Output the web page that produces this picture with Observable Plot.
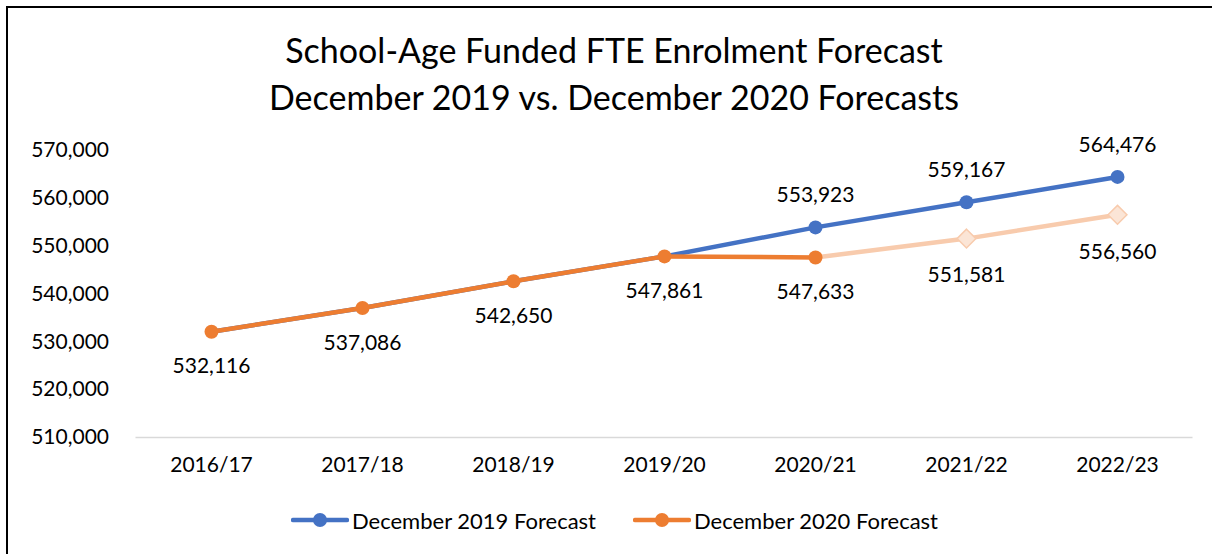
<!DOCTYPE html>
<html>
<head>
<meta charset="utf-8">
<script src="https://cdn.jsdelivr.net/npm/d3@7"></script>
<script src="https://cdn.jsdelivr.net/npm/@observablehq/plot@0.6"></script>
<style>
  html, body { margin: 0; padding: 0; background: #fff; }
  #wrap { position: relative; width: 1212px; height: 554px; overflow: hidden; font-family: Lato, "Open Sans", sans-serif; }
  #bl { position: absolute; left: 6px; top: 6px; width: 2px; height: 560px; background: #000; }
  #bt { position: absolute; left: 6px; top: 6px; width: 1220px; height: 2px; background: #000; }
  #title { position: absolute; left: 0; width: 1228px; top: 26px; text-align: center; font-size: 34px; line-height: 47px; color: #000; }
  #chart { position: absolute; left: 0; top: 0; }
  #legend { position: absolute; top: 507px; left: 0; width: 1212px; height: 26px; }
  .li { position: absolute; top: 0; height: 26px; display: flex; align-items: center; font-size: 22px; color: #000; }
  .li svg { margin-right: 3px; }
</style>
</head>
<body>
<div id="wrap">
  <div id="title">School-Age Funded FTE Enrolment Forecast<br>December 2019 vs. December 2020 Forecasts</div>
  <div id="chart"></div>
  <div id="legend"></div>
  <div id="bl"></div>
  <div id="bt"></div>
</div>
<script>
const years = ["2016/17", "2017/18", "2018/19", "2019/20", "2020/21", "2021/22", "2022/23"];
const dec2019 = [532116, 537086, 542650, 547861, 553923, 559167, 564476];
const dec2020Actual = [532116, 537086, 542650, 547861, 547633];
const dec2020Proj = [547633, 551581, 556560];
const projYears = ["2020/21", "2021/22", "2022/23"];
const yTicks = [510000, 520000, 530000, 540000, 550000, 560000, 570000];
const seriesNames = ["December 2019 Forecast", "December 2020 Forecast"];

const blue = "#4472C4", orange = "#ED7D31", lightStroke = "#F8CBAD", lightFill = "#FBE5D6";
const fmt = d3.format(",");

const d19 = years.map((y, i) => ({year: y, value: dec2019[i]}));
const d20a = dec2020Actual.map((v, i) => ({year: years[i], value: v}));
const d20p = dec2020Proj.map((v, i) => ({year: projYears[i], value: v}));
const blueLabels = d19.slice(4);
const orangeLabels = d20a;
const projLabels = d20p.slice(1);

const font = "Lato, 'Open Sans', sans-serif";
const fs = 21;

const chart = Plot.plot({
  width: 1212,
  height: 554,
  marginLeft: 135.5,
  marginRight: 19.5,
  marginTop: 150,
  marginBottom: 117,
  style: {fontFamily: font, fontSize: fs + "px", color: "#000", background: "transparent", overflow: "visible"},
  x: {type: "point", domain: years, padding: 0.5, label: null},
  y: {domain: [510000, 570000], label: null},
  marks: [
    Plot.ruleY([510000], {stroke: "#d9d9d9", strokeWidth: 1.5}),
    Plot.axisY({ticks: yTicks, tickFormat: fmt, tickSize: 0, tickPadding: 27, fontSize: fs, label: null}),
    Plot.axisX({tickSize: 0, tickPadding: 20, fontSize: fs, label: null}),
    Plot.line(d19, {x: "year", y: "value", stroke: blue, strokeWidth: 4.5}),
    Plot.dot(d19.slice(4), {x: "year", y: "value", r: 7, fill: blue}),
    Plot.line(d20p, {x: "year", y: "value", stroke: lightStroke, strokeWidth: 4.5}),
    Plot.dot(d20p.slice(1), {x: "year", y: "value", symbol: "diamond2", r: 8.5, fill: lightFill, stroke: lightStroke, strokeWidth: 1.5}),
    Plot.line(d20a, {x: "year", y: "value", stroke: orange, strokeWidth: 4.5}),
    Plot.dot(d20a, {x: "year", y: "value", r: 7, fill: orange}),
    Plot.text(blueLabels, {x: "year", y: "value", text: d => fmt(d.value), dy: -32, fontSize: fs, fill: "#000"}),
    Plot.text(orangeLabels, {x: "year", y: "value", text: d => fmt(d.value), dy: 35, fontSize: fs, fill: "#000"}),
    Plot.text(projLabels, {x: "year", y: "value", text: d => fmt(d.value), dy: 37, fontSize: fs, fill: "#000"})
  ]
});
document.getElementById("chart").appendChild(chart);

// legend
const legend = document.getElementById("legend");
const colors = [blue, orange];
const lefts = [291, 633];
seriesNames.forEach((name, i) => {
  const item = document.createElement("div");
  item.className = "li";
  item.style.left = lefts[i] + "px";
  item.innerHTML = `<svg width="58" height="26"><line x1="2" y1="13" x2="56" y2="13" stroke="${colors[i]}" stroke-width="4.5" stroke-linecap="round"/><circle cx="29" cy="13" r="7" fill="${colors[i]}"/></svg><span>${name}</span>`;
  legend.appendChild(item);
});
</script>
</body>
</html>
